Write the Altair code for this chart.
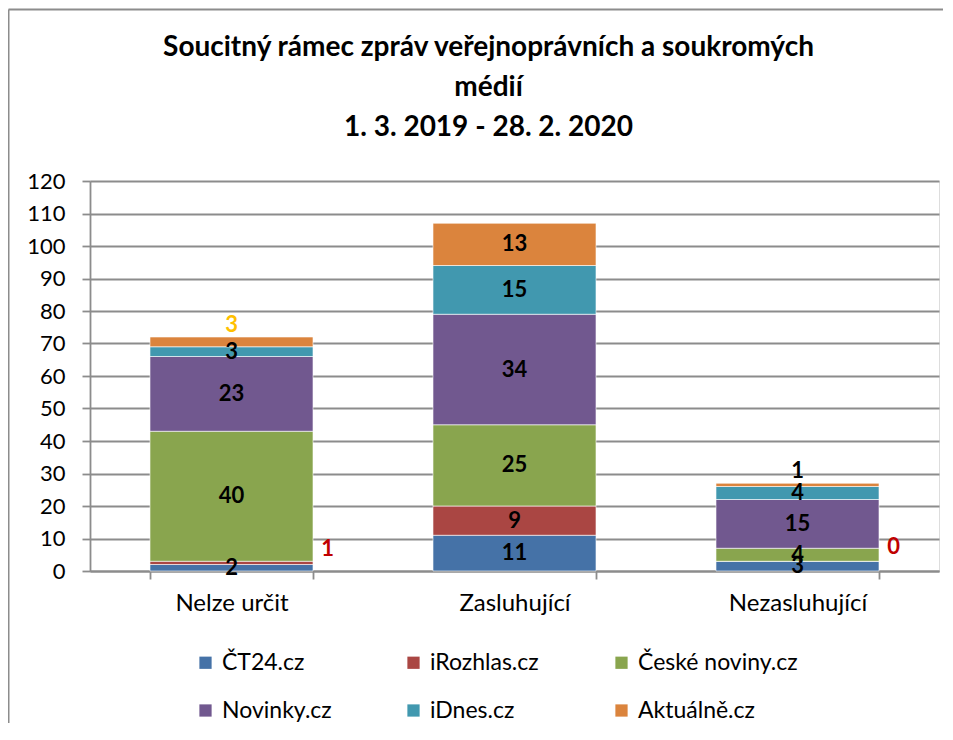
import altair as alt
import pandas as pd

categories = ["Nelze určit", "Zasluhující", "Nezasluhující"]
series = ["ČT24.cz", "iRozhlas.cz", "České noviny.cz", "Novinky.cz", "iDnes.cz", "Aktuálně.cz"]
colors = ["#4572A7", "#AA4643", "#89A54E", "#71588F", "#4198AF", "#DB843D"]
ct24 = [2, 11, 3]
irozhlas = [1, 9, 0]
ceske_noviny = [40, 25, 4]
novinky = [23, 34, 15]
idnes = [3, 15, 4]
aktualne = [3, 13, 1]
y_ticks = list(range(0, 121, 10))
title_lines = ["Soucitný rámec zpráv veřejnoprávních a soukromých", "médií", "1. 3. 2019 - 28. 2. 2020"]

all_vals = [ct24, irozhlas, ceske_noviny, novinky, idnes, aktualne]
rows = []
for ci, cat in enumerate(categories):
    base = 0
    for si, s in enumerate(series):
        v = all_vals[si][ci]
        rows.append(dict(cat=cat, series=s, order=si, value=v,
                         start=base, end=base + v, mid=base + v / 2))
        base += v
df = pd.DataFrame(rows)

W, H = 849, 390
FONT = "Lato"
GRAY = "#8C8C8C"

x_axis = alt.Axis(title=None, labelAngle=0, tickBand="extent",
                  labelFontSize=24, labelFont=FONT, labelColor="black",
                  tickSize=8, labelPadding=12, domainColor=GRAY,
                  tickColor=GRAY, domainWidth=1.8, tickWidth=1.8, grid=False)
y_axis = alt.Axis(title=None, values=y_ticks, labelFontSize=22,
                  labelFont=FONT, labelColor="black", tickSize=8,
                  labelPadding=17, domainColor=GRAY, tickColor=GRAY,
                  gridColor=GRAY, gridWidth=1.8, domainWidth=1.8, tickWidth=1.8)
x_scale = alt.Scale(paddingInner=0.424, paddingOuter=0.212)
y_scale = alt.Scale(domain=[0, 120], nice=False)


def X():
    return alt.X("cat:N", sort=categories, scale=x_scale, axis=x_axis)


def Y(field):
    return alt.Y(field, scale=y_scale, axis=y_axis)


base = alt.Chart(df)

bars = base.mark_bar(stroke="white", strokeWidth=0.6).encode(
    x=X(),
    y=Y("start:Q"),
    y2="end:Q",
    color=alt.Color("series:N", sort=series,
                    scale=alt.Scale(domain=series, range=colors),
                    legend=alt.Legend(orient="none", legendX=104, legendY=470,
                                      direction="horizontal", columns=3, title=None,
                                      symbolType="square", symbolSize=150,
                                      symbolStrokeWidth=0, labelFontSize=23,
                                      labelFont=FONT, labelColor="black",
                                      gridAlign="all", columnPadding=20,
                                      rowPadding=24, labelOffset=5, labelLimit=300)),
    order=alt.Order("order:Q"),
)

is_red = (alt.datum.series == "iRozhlas.cz") & (alt.datum.value <= 1)
is_top = (alt.datum.series == "Aktuálně.cz") & (alt.datum.value <= 3)

TXT = dict(font=FONT, fontSize=22, fontWeight="bold", baseline="middle")

inside = base.transform_filter(~is_red & ~is_top).mark_text(color="black", **TXT).encode(
    x=X(), y=Y("mid:Q"), text="value:Q")

red = base.transform_filter(is_red).mark_text(color="#C00000", dx=96, dy=-14, **TXT).encode(
    x=X(), y=Y("mid:Q"), text="value:Q")

top = base.transform_filter(is_top).mark_text(dy=-12, **TXT).encode(
    x=X(), y=Y("end:Q"), text="value:Q",
    color=alt.condition(alt.datum.cat == "Nelze určit", alt.value("#FFC000"), alt.value("black")))

one = alt.Chart(pd.DataFrame({"k": [0]}))
frame_left = one.mark_rule(color=GRAY, strokeWidth=2).encode(
    x=alt.value(-81.5), y=alt.value(-171.5), y2=alt.value(H + 170))
frame_top = one.mark_rule(color=GRAY, strokeWidth=2).encode(
    x=alt.value(-81.5), x2=alt.value(W + 12), y=alt.value(-171.5))

chart = alt.layer(bars, inside, red, top, frame_left, frame_top).properties(
    width=W, height=H,
    title=alt.TitleParams(title_lines, font=FONT, fontSize=28, fontWeight="bold",
                          color="black", lineHeight=40, anchor="middle", frame="group",
                          dx=-26, offset=-133),
    autosize=alt.AutoSizeParams(type="none"),
    padding={"left": 82, "top": 173, "right": 4, "bottom": 152},
).configure_view(stroke=None).configure(background="white")

chart.save("out.html", embed_options={"renderer": "svg", "actions": False})
